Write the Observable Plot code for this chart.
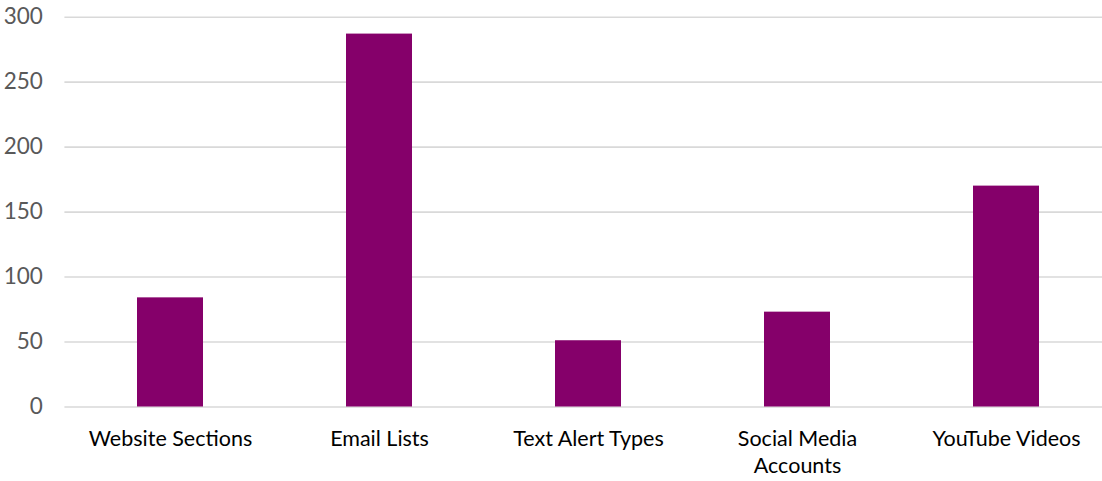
<!DOCTYPE html>
<html>
<head>
<meta charset="utf-8">
<script src="https://cdn.jsdelivr.net/npm/d3@7"></script>
<script src="https://cdn.jsdelivr.net/npm/@observablehq/plot@0.6"></script>
<style>
  html, body { margin: 0; padding: 0; background: #fff; }
  #chart svg { display: block; }
</style>
</head>
<body>
<div id="chart"></div>
<script>
const categories = ["Website Sections", "Email Lists", "Text Alert Types", "Social Media Accounts", "YouTube Videos"];
const categoryLabels = ["Website Sections", "Email Lists", "Text Alert Types", "Social Media\nAccounts", "YouTube Videos"];
const values = [84, 287, 51, 73, 170];
const yTicks = [0, 50, 100, 150, 200, 250, 300];

const data = categories.map((c, i) => ({category: c, value: values[i]}));
const labelOf = new Map(categories.map((c, i) => [c, categoryLabels[i]]));

const chart = Plot.plot({
  width: 1102,
  height: 481,
  marginTop: 16.7,
  marginBottom: 74.5,
  marginLeft: 64.4,
  marginRight: 0,
  style: {fontFamily: "Lato, sans-serif", background: "#fff"},
  x: {domain: categories, range: [64.4, 1110.6], paddingInner: 0.685, paddingOuter: 0.3425, align: 0.5},
  y: {domain: [0, 300]},
  marks: [
    Plot.ruleY(yTicks, {stroke: "#d9d9d9", strokeWidth: 1.6, strokeOpacity: 1}),
    Plot.barY(data, {x: "category", y: "value", fill: "#85006a"}),
    Plot.axisY({ticks: yTicks, tickSize: 0, tickPadding: 22, fontSize: 22.5, fill: "#595959", label: null}),
    Plot.axisX({tickSize: 0, tickPadding: 20, fontSize: 21.5, fill: "#000", label: null, lineHeight: 1.25, tickFormat: d => labelOf.get(d)})
  ]
});
document.getElementById("chart").appendChild(chart);
</script>
</body>
</html>
